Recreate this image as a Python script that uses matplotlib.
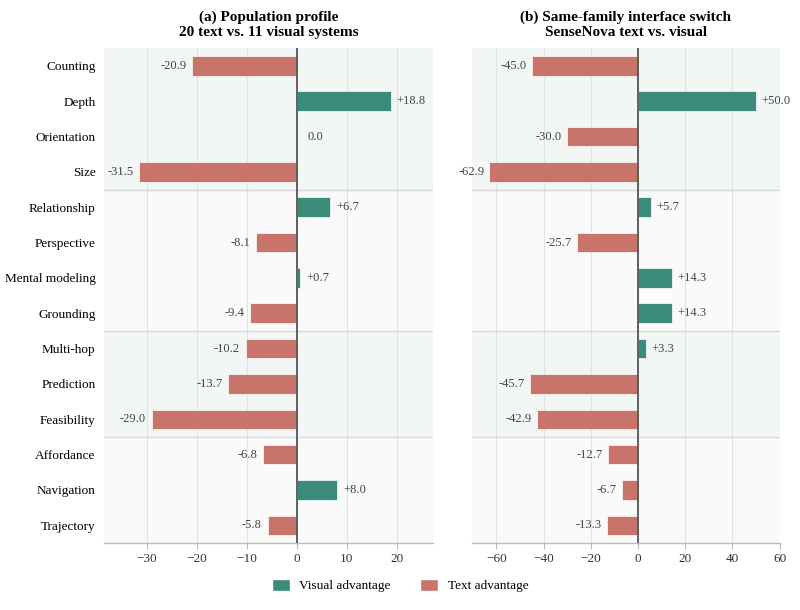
import matplotlib
matplotlib.use("Agg")
import matplotlib.pyplot as plt
from matplotlib.patches import Patch

plt.rcParams['font.family'] = ['Liberation Serif', 'DejaVu Serif']

categories = ["Counting", "Depth", "Orientation", "Size",
              "Relationship", "Perspective", "Mental modeling", "Grounding",
              "Multi-hop", "Prediction", "Feasibility",
              "Affordance", "Navigation", "Trajectory"]
population = [-20.9, 18.8, 0.0, -31.5, 6.7, -8.1, 0.7, -9.4,
              -10.2, -13.7, -29.0, -6.8, 8.0, -5.8]
sensenova = [-45.0, 50.0, -30.0, -62.9, 5.7, -25.7, 14.3, 14.3,
             3.3, -45.7, -42.9, -12.7, -6.7, -13.3]
group_bounds = [(0, 3), (4, 7), (8, 10), (11, 13)]
titles = ["(a) Population profile\n20 text vs. 11 visual systems",
          "(b) Same-family interface switch\nSenseNova text vs. visual"]
legend_labels = ["Visual advantage", "Text advantage"]

GREEN = "#3b8b7b"
RED = "#c8746a"
SHADES = ["#f2f6f4", "#f9faf9"]

fig = plt.figure(figsize=(8, 6.1), dpi=100)
axA = fig.add_axes([0.130, 0.110, 0.411, 0.811])
axB = fig.add_axes([0.590, 0.110, 0.385, 0.811])

def draw(ax, vals, xlim, ticks, off, show_labels):
    ax.set_xlim(*xlim)
    ax.set_ylim(len(categories) - 0.5, -0.5)
    for gi, (a, b) in enumerate(group_bounds):
        ax.axhspan(a - 0.5, b + 0.5, color=SHADES[gi % 2], zorder=0, lw=0)
    for a, b in group_bounds[:-1]:
        ax.axhline(b + 0.5, color="#d8d8d8", lw=1.0, zorder=1)
    ax.set_xticks(ticks)
    ax.grid(axis="x", color="#e2e2e2", lw=0.8, zorder=0.5)
    ax.set_axisbelow(True)
    y = list(range(len(categories)))
    colors = [GREEN if v > 0 else RED for v in vals]
    ax.barh(y, vals, height=0.55, color=colors, edgecolor="white",
            linewidth=0.5, zorder=2)
    ax.axvline(0, color="#555555", lw=1.3, zorder=3)
    for yi, v in zip(y, vals):
        if v > 0:
            ax.text(v + off, yi, f"+{v:.1f}", va="center", ha="left",
                    fontsize=9, color="#444444", zorder=4)
        elif v < 0:
            ax.text(v - off, yi, f"{v:.1f}", va="center", ha="right",
                    fontsize=9, color="#444444", zorder=4)
        else:
            ax.text(off * 1.8, yi, f"{v:.1f}", va="center", ha="left",
                    fontsize=9, color="#444444", zorder=4)
    ax.set_yticks(y)
    if show_labels:
        ax.set_yticklabels(categories, fontsize=9.5)
    else:
        ax.set_yticklabels([])
    ax.tick_params(axis="y", length=0, pad=6)
    ax.tick_params(axis="x", labelsize=9.5, color="#bbbbbb", length=4,
                   labelcolor="#333333")
    for s in ["top", "right", "left"]:
        ax.spines[s].set_visible(False)
    ax.spines["bottom"].set_color("#bbbbbb")
    ax.spines["bottom"].set_linewidth(1.0)

draw(axA, population, (-38.6, 27.2), [-30, -20, -10, 0, 10, 20], 1.2, True)
draw(axB, sensenova, (-70.3, 60.2), [-60, -40, -20, 0, 20, 40, 60], 2.2, False)
axA.set_title(titles[0], fontsize=11, fontweight="bold", pad=9, linespacing=1.2)
axB.set_title(titles[1], fontsize=11, fontweight="bold", pad=9, linespacing=1.2)

handles = [Patch(facecolor=GREEN, edgecolor="white"),
           Patch(facecolor=RED, edgecolor="white")]
fig.legend(handles, legend_labels, loc="center", bbox_to_anchor=(0.5, 0.04),
           ncol=2, frameon=False, fontsize=9.5, handlelength=1.4,
           handleheight=1.0, columnspacing=2.2, handletextpad=0.7)

fig.savefig("out.png", dpi=100, facecolor="white")
